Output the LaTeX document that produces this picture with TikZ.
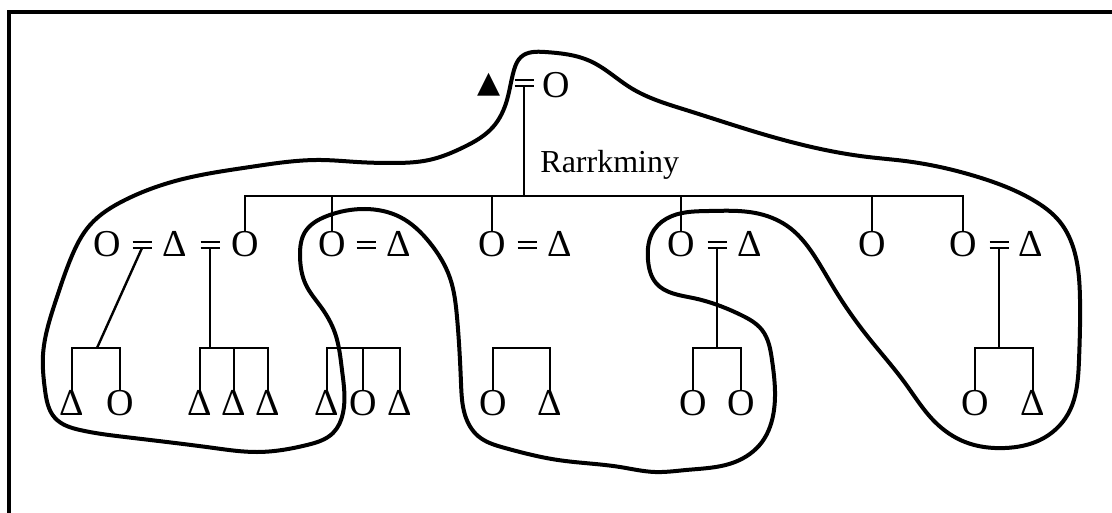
\documentclass[tikz,border=0pt]{standalone}
\usepackage{fontspec}
\setmainfont{Liberation Serif}
\newfontfamily\glyphfont{DejaVu Sans}
\usepackage{tikz}
\usetikzlibrary{hobby}
\def\RowTop{85}
\def\RowMid{244}
\def\RowLow{403}
\def\SibY{196}
\def\KidY{348}

\tikzset{
  kin/.style={line width=1.2pt},
  bars/.style={line width=1.4pt},
  lasso/.style={line width=2pt, line join=round},
  person/.style={inner sep=0pt, font=\fontsize{19}{19}\selectfont},
  egotri/.style={inner sep=0pt, font=\glyphfont\fontsize{15}{15}\selectfont},
  wed/.style={minimum width=9.5pt, minimum height=3pt, inner sep=0pt, outer sep=0pt,
    append after command={
      (\tikzlastnode.north west) edge[bars] (\tikzlastnode.north east)
      (\tikzlastnode.south west) edge[bars] (\tikzlastnode.south east)}},
}

\begin{document}
\begin{tikzpicture}[x=0.5pt,y=-0.5pt]
	\useasboundingbox (0,0) rectangle (1112,513);
	\draw[line width=2pt] (9,513) -- (9,12) -- (1112,12);

	% parents
	\node[egotri] (ego) at (489,\RowTop) {▲};
	\node[wed] (e0) at (524,83) {};
	\node[person] (w0) at (556,\RowTop) {O};
	\node[anchor=base west, inner sep=0pt, font=\fontsize{16}{16}\selectfont] (clan) at (540,173) {Rarrkminy};

	% children and their spouses
	\node[person] (o11) at (107,\RowMid) {O};
	\node[wed] (e11) at (142,245) {};
	\node[person] (d12) at (175,\RowMid) {Δ};
	\node[wed] (e12) at (210,245) {};
	\node[person] (o13) at (245,\RowMid) {O};
	\node[person] (o21) at (332,\RowMid) {O};
	\node[wed] (e21) at (366,245) {};
	\node[person] (d22) at (399,\RowMid) {Δ};
	\node[person] (o31) at (492,\RowMid) {O};
	\node[wed] (e31) at (527,245) {};
	\node[person] (d32) at (560,\RowMid) {Δ};
	\node[person] (o41) at (681,\RowMid) {O};
	\node[wed] (e41) at (717,245) {};
	\node[person] (d42) at (750,\RowMid) {Δ};
	\node[person] (o51) at (872,\RowMid) {O};
	\node[person] (o61) at (963,\RowMid) {O};
	\node[wed] (e61) at (999,245) {};
	\node[person] (d62) at (1031,\RowMid) {Δ};

	\coordinate (sib) at (524,\SibY);
	\draw[kin] (e0.south) -- (sib);
	\draw[kin] (o13.north) |- (sib) -| (o61.north);
	\foreach \c in {o21,o31,o41,o51}
		\draw[kin] (\c.north) -- (\c.north |- sib);

	% grandchildren
	\node[person] (kA1) at (72,\RowLow) {Δ};
	\node[person] (kA2) at (120,\RowLow) {O};
	\node[person] (kB1) at (200,\RowLow) {Δ};
	\node[person] (kB2) at (234,\RowLow) {Δ};
	\node[person] (kB3) at (268,\RowLow) {Δ};
	\node[person] (kC1) at (327,\RowLow) {Δ};
	\node[person] (kC2) at (363,\RowLow) {O};
	\node[person] (kC3) at (400,\RowLow) {Δ};
	\node[person] (kD1) at (493,\RowLow) {O};
	\node[person] (kD2) at (550,\RowLow) {Δ};
	\node[person] (kE1) at (693,\RowLow) {O};
	\node[person] (kE2) at (741,\RowLow) {O};
	\node[person] (kF1) at (975,\RowLow) {O};
	\node[person] (kF2) at (1033,\RowLow) {Δ};

	\coordinate (jA) at (97,\KidY);
	\coordinate (jB) at (210,\KidY);
	\coordinate (jC) at (363,\KidY);
	\coordinate (jD) at (520,\KidY);
	\coordinate (jE) at (717,\KidY);
	\coordinate (jF) at (999,\KidY);
	\draw[kin] (kA1.north) |- (jA) -| (kA2.north);
	\draw[kin] (kB1.north) |- (jB) -| (kB3.north);
	\draw[kin] (kB2.north) -- (kB2.north |- jB);
	\draw[kin] (kC1.north) |- (jC) -| (kC3.north);
	\draw[kin] (kC2.north) -- (jC);
	\draw[kin] (kD1.north) |- (jD) -| (kD2.north);
	\draw[kin] (kE1.north) |- (jE) -| (kE2.north);
	\draw[kin] (kF1.north) |- (jF) -| (kF2.north);
	\draw[kin] (e11.south) -- (jA);
	\draw[kin] (e12.south) -- (jB);
	\draw[kin] (e41.south) -- (jE);
	\draw[kin] (e61.south) -- (jF);

	% the loop
	\draw[lasso, use Hobby shortcut, closed=true]
		(521,57) .. (545,52) .. (590,61) .. (631,88) .. (686,110) .. (759,133) .. (868,157)
		.. (905,161) .. (978,177) .. (1033,200) .. (1060,222) .. (1074,250) .. (1080,300)
		.. (1079,360) .. (1068,414) .. (1040,440) .. (1005,448) .. (965,442) .. (935,422)
		.. (905,383) .. (868,337) .. (835,290) .. (817,260) .. (790,228) .. (760,214)
		.. (709,211) .. (672,216) .. (654,230) .. (648,260) .. (656,283) .. (693,298)
		.. (741,315) .. (762,330) .. (772,360) .. (774,410) .. (762,442) .. (735,462)
		.. (686,470) .. (655,472) .. (620,467) .. (558,460) .. (505,448) .. (478,436)
		.. (465,415) .. (461,383) .. (457,317) .. (450,278) .. (430,243) .. (400,217)
		.. (365,209) .. (327,216) .. (305,232) .. (300,255) .. (306,285) .. (321,307)
		.. (335,333) .. (342,370) .. (343,413) .. (333,433) .. (307,445) .. (257,452)
		.. (214,448) .. (125,437) .. (80,430) .. (55,418) .. (45,390) .. (43,355)
		.. (47,330) .. (56,300) .. (71,258) .. (90,225) .. (125,200) .. (179,180)
		.. (250,167) .. (321,160) .. (357,162) .. (393,163) .. (429,160) .. (464,147)
		.. (493,127) .. (507,100) .. (514,70);
\end{tikzpicture}
\end{document}
